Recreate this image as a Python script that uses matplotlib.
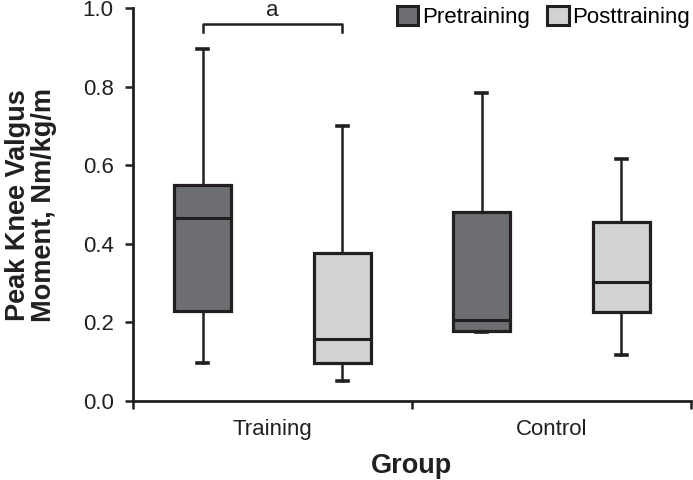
import matplotlib.pyplot as plt
from matplotlib.patches import Patch

plt.rcParams['font.family'] = ['Liberation Sans', 'DejaVu Sans']

groups = ['Training', 'Control']
series = ['Pretraining', 'Posttraining']
colors = ['#6d6e71', '#d1d2d4']
edge = '#231f20'

# whisker low, q1, median, q3, whisker high
train_pre = [0.097, 0.229, 0.466, 0.550, 0.896]
train_post = [0.051, 0.097, 0.158, 0.377, 0.700]
ctrl_pre = [0.176, 0.179, 0.206, 0.482, 0.785]
ctrl_post = [0.117, 0.227, 0.304, 0.456, 0.617]

boxes = [train_pre, train_post, ctrl_pre, ctrl_post]
box_colors = [colors[0], colors[1], colors[0], colors[1]]

stats = []
for b in boxes:
    stats.append(dict(whislo=b[0], q1=b[1], med=b[2], q3=b[3], whishi=b[4], fliers=[]))

fig = plt.figure(figsize=(6.93, 4.8), dpi=100)
ax = fig.add_axes([0.192, 0.1646, 0.805, 0.818])

res = ax.bxp(stats, positions=[0, 1, 2, 3], widths=0.41, capwidths=0.08,
             patch_artist=True, showfliers=False,
             boxprops=dict(edgecolor=edge, linewidth=2.3),
             medianprops=dict(color=edge, linewidth=2.2),
             whiskerprops=dict(color=edge, linewidth=1.8),
             capprops=dict(color=edge, linewidth=2.6))
for patch, c in zip(res['boxes'], box_colors):
    patch.set_facecolor(c)

# significance bracket
ax.plot([0, 0, 1, 1], [0.939, 0.959, 0.959, 0.939], color=edge, lw=1.8, clip_on=False)
ax.text(0.5, 0.968, 'a', ha='center', va='bottom', fontsize=16, color=edge, clip_on=False)

ax.set_xlim(-0.5, 3.5)
ax.set_ylim(0, 1.0)
ax.set_yticks([0, 0.2, 0.4, 0.6, 0.8, 1.0])
ax.set_yticklabels(['0.0', '0.2', '0.4', '0.6', '0.8', '1.0'])
ax.set_xticks([-0.5, 1.5, 3.5])
ax.set_xticklabels([])
ax.set_xticks([0.5, 2.5], minor=True)
ax.set_xticklabels(groups, minor=True)
ax.tick_params(axis='x', which='minor', length=0, pad=13, labelsize=16, colors=edge)
ax.tick_params(axis='x', which='major', length=6, width=1.8, color=edge)
ax.tick_params(axis='y', length=6, width=1.8, color=edge, labelsize=16, labelcolor=edge, pad=8)

for s in ['top', 'right']:
    ax.spines[s].set_visible(False)
for s in ['left', 'bottom']:
    ax.spines[s].set_linewidth(2.0)
    ax.spines[s].set_color(edge)

ax.set_ylabel('Peak Knee Valgus\nMoment, Nm/kg/m', fontsize=19.5, fontweight='bold',
              color=edge, linespacing=1.0)
ax.yaxis.set_label_coords(-0.136, 0.5)
ax.set_xlabel('Group', fontsize=19.5, fontweight='bold', color=edge, labelpad=9)

handles = [Patch(facecolor=colors[0], edgecolor=edge, linewidth=2.2),
           Patch(facecolor=colors[1], edgecolor=edge, linewidth=2.2)]
ax.legend(handles, series, ncol=2, loc='upper right', bbox_to_anchor=(1.0, 0.995),
          bbox_transform=fig.transFigure, frameon=False, fontsize=16,
          handlelength=0.95, handleheight=0.95, handletextpad=0.15,
          columnspacing=0.8, borderaxespad=0.0, borderpad=0.15)

fig.savefig('out.png', dpi=100)
